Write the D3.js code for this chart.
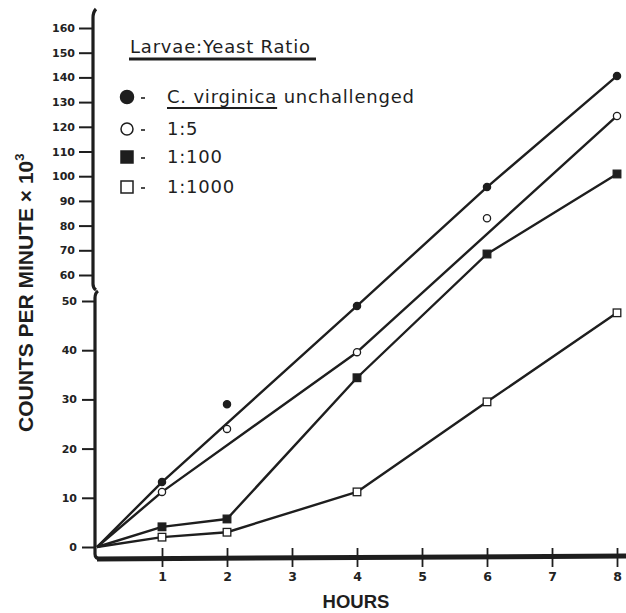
<!DOCTYPE html>
<html>
<head>
<meta charset="utf-8">
<script src="https://cdn.jsdelivr.net/npm/d3@7.9.0/dist/d3.min.js"></script>
<style>
  body { margin: 0; background: #fff; }
  svg { display: block; }
  .tick text { font-family: "DejaVu Sans", sans-serif; font-weight: bold; fill: #222; }
</style>
</head>
<body>
<svg width="626" height="613"></svg>
<script>
// data
const hours = [0, 1, 2, 4, 6, 8];
const unchallenged = [0, 13.2, 29, 49, 95.6, 140.6];
const ratio1to5 = [0, 11.2, 24, 39.6, 83, 124.4];
const ratio1to100 = [0, 4.1, 5.7, 34.4, 68.5, 100.9];
const ratio1to1000 = [0, 2.0, 3.0, 11.2, 29.5, 47.6];
// hours where the drawn line does not pass through the point
const skipUnchallenged = [2];
const skip1to5 = [2, 6];

const xTicks = [1, 2, 3, 4, 5, 6, 7, 8];
const yLowTicks = [0, 10, 20, 30, 40, 50];
const yHighTicks = [60, 70, 80, 90, 100, 110, 120, 130, 140, 150, 160];

const ink = '#1e1e1e';
const svg = d3.select('svg');

const x = d3.scaleLinear().domain([0, 8]).range([97, 617]);
const yLow = d3.scaleLinear().domain([0, 50]).range([547, 301]);
const yHigh = d3.scaleLinear().domain([60, 160]).range([275, 28]);
const y = v => v <= 55 ? yLow(v) : yHigh(v);

// y axes (broken)
let gHigh = svg.append('g').attr('transform', 'translate(93,0)')
  .call(d3.axisLeft(yHigh).tickValues(yHighTicks).tickSize(14).tickPadding(4));
let gLow = svg.append('g').attr('transform', 'translate(95,0)')
  .call(d3.axisLeft(yLow).tickValues(yLowTicks).tickSize(13).tickPadding(5));
[gHigh, gLow].forEach(g => {
  g.select('.domain').remove();
  g.selectAll('.tick line').attr('stroke', ink).attr('stroke-width', 2);
  g.selectAll('.tick text').attr('font-size', 11).attr('fill', ink);
});

svg.append('path')
  .attr('d', 'M96,9 Q93,12 93,18 L93,284 Q93,288 96,290')
  .attr('fill', 'none').attr('stroke', ink).attr('stroke-width', 3.2);
svg.append('path')
  .attr('d', 'M98,291 Q95,293 95,298 L95,554 Q95,559 101,559')
  .attr('fill', 'none').attr('stroke', ink).attr('stroke-width', 3.2);

// x axis
svg.append('line')
  .attr('x1', 97).attr('y1', 559).attr('x2', 626).attr('y2', 556)
  .attr('stroke', ink).attr('stroke-width', 5);
let gx = svg.append('g').attr('transform', 'translate(0,548)')
  .call(d3.axisBottom(x).tickValues(xTicks).tickSize(19).tickPadding(5).tickFormat(d3.format('d')));
gx.select('.domain').remove();
gx.selectAll('.tick line').attr('stroke', ink).attr('stroke-width', 1.8);
gx.selectAll('.tick text').attr('font-size', 12.5).attr('fill', ink);

svg.append('text')
  .attr('x', 356).attr('y', 608)
  .attr('text-anchor', 'middle')
  .attr('font-family', 'Liberation Sans, Arial, sans-serif')
  .attr('font-weight', 'bold').attr('font-size', 18.5).attr('fill', ink)
  .text('HOURS');

let yl = svg.append('text')
  .attr('transform', 'translate(33,432) rotate(-90)')
  .attr('font-family', 'Liberation Sans, Arial, sans-serif')
  .attr('font-weight', 'bold').attr('font-size', 21).attr('fill', ink);
yl.append('tspan').text('COUNTS PER MINUTE × 10');
yl.append('tspan').attr('font-size', 13).attr('dy', -9).text('3');

// lines
const series = [
  { vals: unchallenged, skip: skipUnchallenged, shape: 'circle', fill: ink },
  { vals: ratio1to5, skip: skip1to5, shape: 'circle', fill: '#fff' },
  { vals: ratio1to100, skip: [], shape: 'square', fill: ink },
  { vals: ratio1to1000, skip: [], shape: 'square', fill: '#fff' }
];

const line = d3.line().x(d => x(d.h)).y(d => y(d.v));

series.forEach(s => {
  let pts = hours.map((h, i) => ({ h: h, v: s.vals[i] }));
  svg.append('path')
    .datum(pts.filter(p => !s.skip.includes(p.h)))
    .attr('d', line)
    .attr('fill', 'none').attr('stroke', ink).attr('stroke-width', 2.4)
    .attr('stroke-linejoin', 'round');

  let marks = pts.filter(p => p.h > 0);
  if (s.shape === 'circle') {
    svg.selectAll(null).data(marks).enter().append('circle')
      .attr('cx', d => x(d.h)).attr('cy', d => y(d.v)).attr('r', 3.6)
      .attr('fill', s.fill).attr('stroke', ink).attr('stroke-width', 1.3);
  } else {
    svg.selectAll(null).data(marks).enter().append('rect')
      .attr('x', d => x(d.h) - 3.8).attr('y', d => y(d.v) - 3.8)
      .attr('width', 7.6).attr('height', 7.6)
      .attr('fill', s.fill).attr('stroke', ink).attr('stroke-width', 1.3);
  }
});

// legend
const legendFont = 'DejaVu Sans, sans-serif';
svg.append('text')
  .attr('x', 130).attr('y', 53)
  .attr('font-family', legendFont).attr('font-size', 18).attr('letter-spacing', 0.8)
  .attr('fill', ink).text('Larvae:Yeast Ratio');
svg.append('line')
  .attr('x1', 129).attr('x2', 316).attr('y1', 59).attr('y2', 59)
  .attr('stroke', ink).attr('stroke-width', 3);

const legendLabels = ['', '1:5', '1:100', '1:1000'];
const legendY = [97, 129, 157, 187];
let speciesSpan = null;

series.forEach((s, i) => {
  let cy = legendY[i];
  if (s.shape === 'circle') {
    svg.append('circle').attr('cx', 127).attr('cy', cy).attr('r', s.fill === ink ? 6.5 : 6)
      .attr('fill', s.fill).attr('stroke', ink).attr('stroke-width', 1.5);
  } else {
    svg.append('rect').attr('x', 121).attr('y', cy - 6).attr('width', 12).attr('height', 12)
      .attr('fill', s.fill).attr('stroke', ink).attr('stroke-width', 1.5);
  }
  svg.append('line').attr('x1', 141).attr('x2', 145).attr('y1', cy + 1).attr('y2', cy + 1)
    .attr('stroke', ink).attr('stroke-width', 1.6);
  let t = svg.append('text')
    .attr('x', 167).attr('y', cy + 6)
    .attr('font-family', legendFont).attr('font-size', 18).attr('letter-spacing', 0.8)
    .attr('fill', ink);
  if (i === 0) {
    speciesSpan = t.append('tspan').text('C. virginica');
    t.append('tspan').text(' unchallenged');
  } else {
    t.text(legendLabels[i]);
  }
});
// underline for species name
let spLen = speciesSpan.node().getComputedTextLength();
svg.append('line')
  .attr('x1', 167).attr('x2', 167 + spLen).attr('y1', 108).attr('y2', 108)
  .attr('stroke', ink).attr('stroke-width', 2);
</script>
</body>
</html>
